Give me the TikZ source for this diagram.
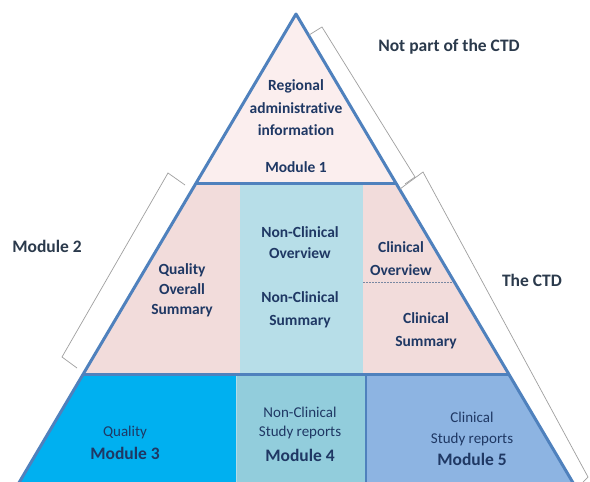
\documentclass[tikz,border=0pt]{standalone}
\usepackage{fontspec}
\setmainfont{Carlito}[Ligatures=NoCommon]
\begin{document}
\begin{tikzpicture}[x=1pt,y=-1pt,
  edge/.style={draw=edgeblue,line width=3pt,line join=round},
  brk/.style={draw=gray!75,line width=0.7pt,line join=miter},
  intxt/.style={text=navy,font=\fontsize{15.5}{21}\selectfont\bfseries,align=center,inner sep=0pt},
  lowtxt/.style={text=navy,font=\fontsize{15}{20}\selectfont,align=center,inner sep=0pt},
  modtxt/.style={text=navy,font=\fontsize{17.5}{20}\selectfont\bfseries,inner sep=0pt},
  outtxt/.style={text=outgray,font=\fontsize{17.5}{20}\selectfont\bfseries,inner sep=0pt}]
\definecolor{edgeblue}{HTML}{4F81BD}
\definecolor{navy}{HTML}{1F3864}
\definecolor{outgray}{HTML}{2B3A4C}
\definecolor{pinkA}{HTML}{FBEEEE}
\definecolor{pinkB}{HTML}{F2DCDB}
\definecolor{cyanA}{HTML}{B7DEE8}
\definecolor{blueM3}{HTML}{00B0F0}
\definecolor{cyanM4}{HTML}{92CDDC}
\definecolor{blueM5}{HTML}{8DB4E2}
\useasboundingbox (0,0) rectangle (590,482);
\fill[white] (0,0) rectangle (590,482);
% key points
\coordinate (apex) at (296,14);
\coordinate (l1) at (196.1,183);
\coordinate (r1) at (395.9,183);
\coordinate (l2) at (83.2,374);
\coordinate (r2) at (508.8,374);
\coordinate (l3) at (14.7,490);
\coordinate (r3) at (577.3,490);
\begin{scope}
\clip (0,0) rectangle (590,482);
% fills
\fill[pinkA] (apex) -- (l1) -- (r1) -- cycle;
\fill[pinkB] (l1) -- (240,183) -- (240,374) -- (l2) -- cycle;
\fill[cyanA] (240,183) rectangle (363,374);
\fill[pinkB] (363,183) -- (r1) -- (r2) -- (363,374) -- cycle;
\fill[blueM3] (l2) -- (236,374) -- (236,490) -- (l3) -- cycle;
\fill[cyanM4] (236,374) rectangle (366,490);
\fill[blueM5] (366,374) -- (r2) -- (r3) -- (366,490) -- cycle;
% dividers
\draw[navy!60,line width=0.6pt,dash pattern=on 2pt off 1pt] (363,282) -- (454.4,282);
\draw[edgeblue,line width=1.2pt] (366,374) -- (366,490);
\draw[cyanM4!70!white,line width=0.8pt] (236,374) -- (236,490);
% outline
\draw[edge] (l3) -- (apex) -- (r3);
\draw[edge] (l1) -- (r1);
\draw[edge] (l2) -- (r2);
\end{scope}
% brackets
\draw[brk] (309,35) -- (322,27) -- (415,177) -- (405,184);
\draw[brk] (400,189) -- (423,172) -- (588,477) -- (583,482);
\draw[brk] (185,185) -- (168,173) -- (62,357) -- (77,368);
% texts
\node[intxt] (rai) at (296,108) {Regional\\[1.5pt]administrative\\[1.5pt]information};
\node[intxt] (m1) at (296,167) {Module 1};
\node[intxt,font=\fontsize{15.5}{20}\selectfont\bfseries] (qos) at (182,290) {Quality\\Overall\\Summary};
\node[intxt] (nco) at (300,242.5) {Non-Clinical\\Overview};
\node[intxt,font=\fontsize{15.5}{23.5}\selectfont\bfseries] (ncs) at (300,310) {Non-Clinical\\Summary};
\node[intxt,font=\fontsize{15.5}{23}\selectfont\bfseries] (co) at (401,258.5) {Clinical\\Overview};
\node[intxt,font=\fontsize{15.5}{23}\selectfont\bfseries] (cs) at (426,330.5) {Clinical\\Summary};
\node[lowtxt] (q3) at (125,432) {Quality};
\node[modtxt] (m3) at (125,453) {Module 3};
\node[lowtxt,font=\fontsize{15}{19}\selectfont] (ncsr) at (300,422.5) {Non-Clinical\\Study reports};
\node[modtxt] (m4) at (300,455) {Module 4};
\node[lowtxt,font=\fontsize{15}{21}\selectfont] (csr) at (472,428.5) {Clinical\\Study reports};
\node[modtxt] (m5) at (472,459) {Module 5};
\node[outtxt] (notctd) at (449,47) {Not part of the CTD};
\node[outtxt] (mod2) at (47,246) {Module 2};
\node[outtxt] (ctd) at (532,280) {The CTD};
\end{tikzpicture}
\end{document}
